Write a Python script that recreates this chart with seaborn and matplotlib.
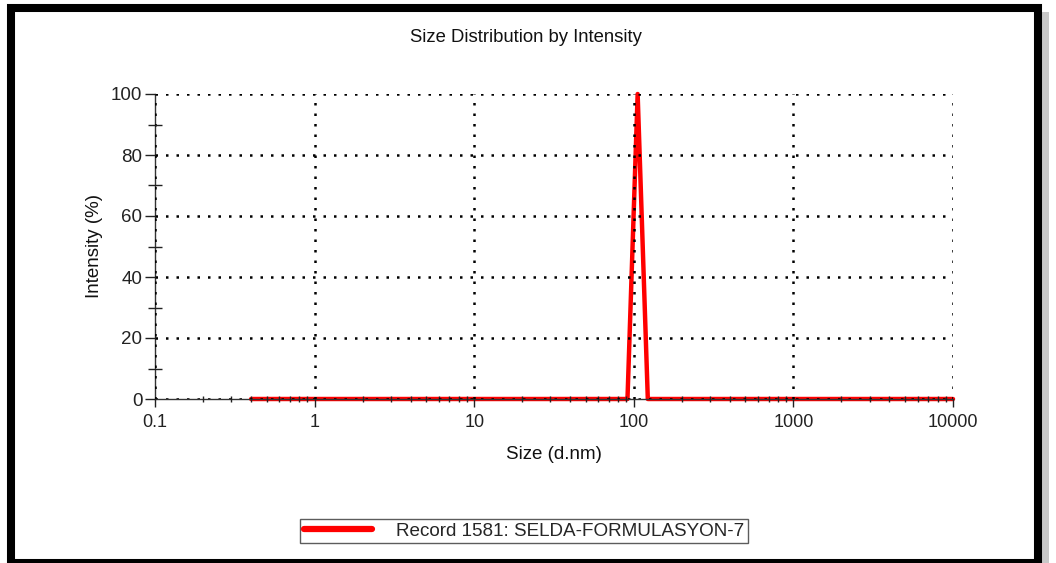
import matplotlib
matplotlib.use("Agg")
import matplotlib.pyplot as plt
import matplotlib.patches as mpatches
from matplotlib.ticker import FixedLocator, NullFormatter
import seaborn as sns
import pandas as pd

# ---- data (Malvern size bins, d.nm) ----
sizes = [0.4, 0.4632, 0.5365, 0.6213, 0.7195, 0.8332, 0.9649, 1.117, 1.294, 1.499,
         1.736, 2.010, 2.328, 2.696, 3.122, 3.615, 4.187, 4.849, 5.615, 6.503,
         7.531, 8.721, 10.10, 11.70, 13.54, 15.69, 18.17, 21.04, 24.36, 28.21,
         32.67, 37.84, 43.82, 50.75, 58.77, 68.06, 78.82, 91.28, 105.7, 122.4,
         141.8, 164.2, 190.1, 220.2, 255.0, 295.3, 342.0, 396.1, 458.7, 531.2,
         615.1, 712.4, 825.0, 955.4, 1106, 1281, 1484, 1718, 1990, 2305,
         2669, 3091, 3580, 4145, 4801, 5560, 6439, 7456, 8635, 10000]
intensity = [0, 0, 0, 0, 0, 0, 0, 0, 0, 0,
             0, 0, 0, 0, 0, 0, 0, 0, 0, 0,
             0, 0, 0, 0, 0, 0, 0, 0, 0, 0,
             0, 0, 0, 0, 0, 0, 0, 0, 100, 0,
             0, 0, 0, 0, 0, 0, 0, 0, 0, 0,
             0, 0, 0, 0, 0, 0, 0, 0, 0, 0,
             0, 0, 0, 0, 0, 0, 0, 0, 0, 0]
series_name = "Record 1581: SELDA-FORMULASYON-7"
x_ticks = [0.1, 1, 10, 100, 1000, 10000]
x_tick_labels = ["0.1", "1", "10", "100", "1000", "10000"]
y_ticks = [0, 20, 40, 60, 80, 100]
y_tick_labels = ["0", "20", "40", "60", "80", "100"]

df = pd.DataFrame({"Size": sizes, "Intensity": intensity, "Record": series_name})

sns.set_theme(style="white")
plt.rcParams["font.family"] = ["Liberation Sans", "DejaVu Sans"]

W, H = 1056, 563
fig = plt.figure(figsize=(W / 100, H / 100), dpi=100)
fig.patch.set_facecolor("white")
ax = fig.add_axes([155 / W, 1 - 399 / H, (953 - 155) / W, (399 - 94) / H])

sns.lineplot(data=df, x="Size", y="Intensity", hue="Record", palette=["#ff0000"],
             linewidth=3.2, ax=ax, legend=False, clip_on=False, zorder=2)

ax.set_xscale("log")
ax.set_xlim(0.1, 10000)
ax.set_ylim(0, 100)

ax.xaxis.set_major_locator(FixedLocator(x_ticks))
ax.set_xticklabels(x_tick_labels)
minors = [m * 10.0 ** e for e in range(-1, 4) for m in range(2, 10)]
ax.xaxis.set_minor_locator(FixedLocator(minors))
ax.xaxis.set_minor_formatter(NullFormatter())
ax.yaxis.set_major_locator(FixedLocator(y_ticks))
ax.set_yticklabels(y_tick_labels)
ax.yaxis.set_minor_locator(FixedLocator([10, 30, 50, 70, 90]))
ax.yaxis.set_minor_formatter(NullFormatter())

ax.tick_params(axis="both", which="both", bottom=True, left=True, top=False, right=False)
ax.tick_params(axis="x", which="major", labelsize=13, colors="#222222",
               length=6, width=1, direction="out", pad=5)
ax.tick_params(axis="y", which="major", labelsize=13.5, colors="#222222",
               length=7, width=1, direction="out", pad=2)
ax.tick_params(axis="y", which="minor", length=10, width=1, direction="inout", color="#222222")
ax.tick_params(axis="x", which="minor", length=5, width=1, direction="inout", color="#222222")

ax.grid(True, which="major", color="black", linestyle=(0, (1, 3.2)), linewidth=1.8)
ax.set_axisbelow(False)
for line in ax.get_xgridlines() + ax.get_ygridlines():
    line.set_zorder(1)
for s in ["top", "right"]:
    ax.spines[s].set_visible(False)
for s in ["left", "bottom"]:
    ax.spines[s].set_color("#333333")
    ax.spines[s].set_linewidth(1.0)

ax.set_xlabel("Size (d.nm)", fontsize=13.5, color="#111111")
ax.set_ylabel("Intensity (%)", fontsize=13.5, color="#111111")
ax.xaxis.set_label_coords(0.5, (399 - 446) / 305)
ax.yaxis.set_label_coords((103 - 155) / 798, 0.5)
fig.text(526 / W, 1 - 37 / H, "Size Distribution by Intensity", fontsize=13.3,
         ha="center", va="center", color="#111111")

# legend
handle = plt.Line2D([], [], color="#ff0000", linewidth=4.5)
leg = fig.legend([handle], [series_name], loc="center",
                 bbox_to_anchor=(524 / W, 1 - 531 / H), frameon=True, fancybox=False,
                 fontsize=13.6, handlelength=3.6, handletextpad=1.3, borderpad=0.2,
                 borderaxespad=0)
leg.get_frame().set_edgecolor("#333333")
leg.get_frame().set_linewidth(1.0)

# outer frame with shadow
fig.patches.append(mpatches.Rectangle((1042 / W, 0), 7 / W, 1 - 12 / H,
                                      transform=fig.transFigure, facecolor="#c8c8c8",
                                      edgecolor="none", zorder=0))
fig.patches.append(mpatches.Rectangle((11 / W, 0.5 / H), (1038 - 11) / W, (1 - 8 / H) - 0.5 / H,
                                      transform=fig.transFigure, facecolor="none",
                                      edgecolor="black", linewidth=5.8, zorder=10))

fig.savefig("out.png", dpi=100)
